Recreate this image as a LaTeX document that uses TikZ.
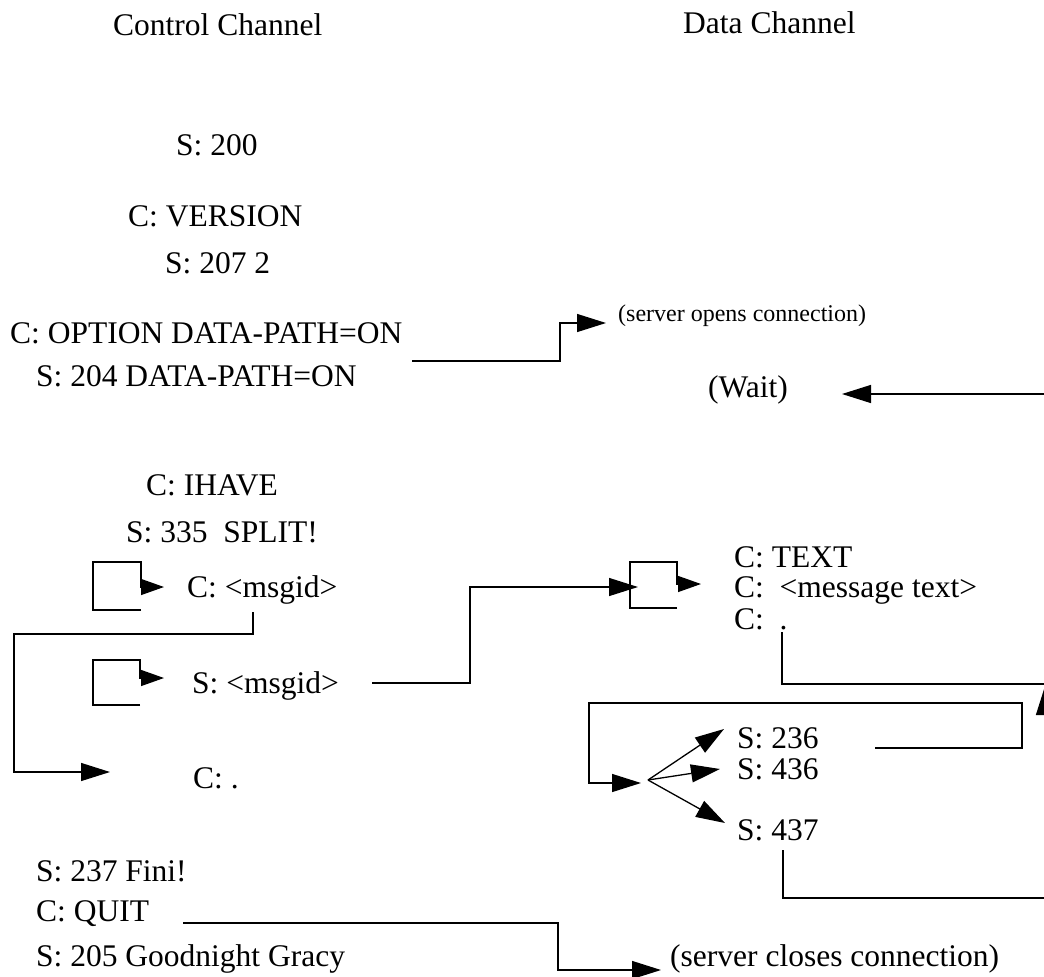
\documentclass[tikz,border=0pt]{standalone}
\usepackage{fontspec}
\setmainfont{Liberation Serif}
\usetikzlibrary{arrows.meta}
\begin{document}
\begin{tikzpicture}[x=1pt,y=-1pt,
  lbl/.style={inner sep=0pt, anchor=base west, font=\fontsize{31.5}{36}\selectfont},
  small/.style={inner sep=0pt, anchor=base west, font=\fontsize{24}{28}\selectfont},
  wire/.style={line width=1.3pt, line join=miter},
  arr/.style={wire, -{Triangle[length=29pt,width=18pt]}},
  sarr/.style={wire, -{Triangle[length=23pt,width=16pt]}}]
\useasboundingbox (0,0) rectangle (1044,977);
\clip (0,0) rectangle (1044,977);

% column headings
\node[lbl] (ctl) at (113,35) {Control Channel};
\node[lbl] (dat) at (683,33) {Data Channel};

% control channel dialogue
\node[lbl] (s200)  at (176,155) {S: 200};
\node[lbl] (cver)  at (128,226) {C: VERSION};
\node[lbl] (s207)  at (165,273) {S: 207 2};
\node[lbl] (copt)  at (10,343)  {C: OPTION DATA-PATH=ON};
\node[lbl] (s204)  at (36,386)  {S: 204 DATA-PATH=ON};
\node[lbl] (ihave) at (146,495) {C: IHAVE};
\node[lbl] (s335)  at (126,542) {S: 335\ \ SPLIT!};
\node[lbl] (cmsg)  at (187,597) {C: <msgid>};
\node[lbl] (smsg)  at (192,693) {S: <msgid>};
\node[lbl] (cdot)  at (193,788) {C: .};
\node[lbl] (s237)  at (36,881)  {S: 237 Fini!};
\node[lbl] (cquit) at (36,921)  {C: QUIT};
\node[lbl] (s205)  at (36,966)  {S: 205 Goodnight Gracy};

% data channel dialogue
\node[small] (open) at (618,321) {(server opens connection)};
\node[lbl] (wait)  at (708,397) {(Wait)};
\node[lbl] (ctext) at (734,567) {C: TEXT};
\node[lbl] (cbody) at (734,597) {C:\ \ <message text>};
\node[lbl] (cend)  at (734,629) {C:\ \ .};
\node[lbl] (s236)  at (737,748) {S: 236};
\node[lbl] (s436)  at (737,779) {S: 436};
\node[lbl] (s437)  at (737,840) {S: 437};
\node[lbl] (close) at (670,966) {(server closes connection)};

% option request opens the data path
\coordinate (optA) at (412,361);
\coordinate (optB) at (560,361);
\coordinate (optC) at (560,323);
\coordinate (optD) at (606,323);
\draw[arr] (optA) -- (optB) -- (optC) -- (optD);

% waiting on the data channel
\coordinate (waitA) at (1050,394);
\coordinate (waitB) at (842,394);
\draw[arr] (waitA) -- (waitB);

% self loops in the control channel
\draw[sarr] (141,610) -- (93,610) -- (93,562) -- (141,562) -- (141,587) -- (164,587);
\draw[sarr] (140,705) -- (93,705) -- (93,660) -- (140,660) -- (140,678) -- (164,678);

% msgid to terminating dot
\coordinate (mA) at (253,612);
\coordinate (mB) at (253,634);
\coordinate (mC) at (14,634);
\coordinate (mD) at (14,772);
\coordinate (mE) at (110,772);
\draw[arr] (mA) -- (mB) -- (mC) -- (mD) -- (mE);

% server msgid to data channel
\coordinate (dA) at (372,683);
\coordinate (dB) at (470,683);
\coordinate (dC) at (470,587);
\coordinate (dD) at (638,587);
\draw[arr] (dA) -- (dB) -- (dC) -- (dD);

% self loop in the data channel
\draw[sarr] (677,608) -- (630,608) -- (630,562) -- (677,562) -- (677,584) -- (701,584);

% end of text runs off to the right
\coordinate (eA) at (782,632);
\coordinate (eB) at (782,684);
\coordinate (eC) at (1050,684);
\draw[wire] (eA) -- (eB) -- (eC);

% incoming arrow at the right border
\coordinate (rA) at (1045,790);
\coordinate (rB) at (1045,686);
\draw[arr] (rA) -- (rB);

% 236 loops back to the reply fan
\coordinate (lA) at (875,748);
\coordinate (lB) at (1022,748);
\coordinate (lC) at (1022,703);
\coordinate (lD) at (589,703);
\coordinate (lE) at (589,783);
\coordinate (lF) at (641,783);
\draw[arr] (lA) -- (lB) -- (lC) -- (lD) -- (lE) -- (lF);

% reply fan
\coordinate (fan) at (648,780);
\coordinate (f1) at (724,729);
\coordinate (f2) at (720,769);
\coordinate (f3) at (725,823);
\draw[arr] (fan) -- (f1);
\draw[arr] (fan) -- (f2);
\draw[arr] (fan) -- (f3);

% 437 runs off to the right
\coordinate (xA) at (783,850);
\coordinate (xB) at (783,898);
\coordinate (xC) at (1050,898);
\draw[wire] (xA) -- (xB) -- (xC);

% quit closes the data path
\coordinate (qA) at (183,923);
\coordinate (qB) at (558,923);
\coordinate (qC) at (558,970);
\coordinate (qD) at (661,970);
\draw[arr] (qA) -- (qB) -- (qC) -- (qD);
\end{tikzpicture}
\end{document}
